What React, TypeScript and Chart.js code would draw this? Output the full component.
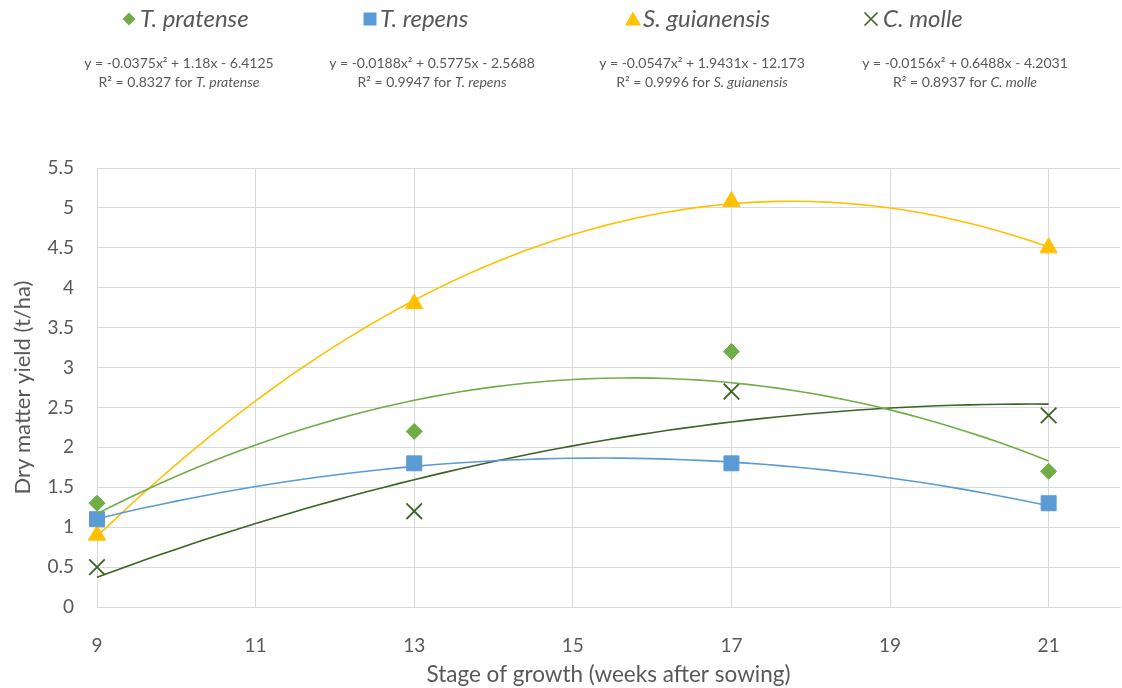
import React, { useEffect, useRef } from 'react';
import { Chart, registerables } from 'chart.js';
Chart.register(...registerables);

const weeks = [9, 13, 17, 21];
const pratense = [1.3, 2.2, 3.2, 1.7];
const repens = [1.1, 1.8, 1.8, 1.3];
const guianensis = [0.9, 3.8, 5.08, 4.5];
const molle = [0.5, 1.2, 2.7, 2.4];
const xTicks = [9, 11, 13, 15, 17, 19, 21];
const yTicks = [0, 0.5, 1, 1.5, 2, 2.5, 3, 3.5, 4, 4.5, 5, 5.5];

// trendline coefficients: y = a x^2 + b x + c
const pratenseFit = [-0.0375, 1.18, -6.4125];
const repensFit = [-0.0188, 0.5775, -2.5688];
const guianensisFit = [-0.0547, 1.9431, -12.173];
const molleFit = [-0.0156, 0.6488, -4.2031];

const names = ['T. pratense', 'T. repens', 'S. guianensis', 'C. molle'];
const equations = [
  'y = -0.0375x² + 1.18x - 6.4125',
  'y = -0.0188x² + 0.5775x - 2.5688',
  'y = -0.0547x² + 1.9431x - 12.173',
  'y = -0.0156x² + 0.6488x - 4.2031',
];
const r2Values = ['0.8327', '0.9947', '0.9996', '0.8937'];

const colors = ['#70AD47', '#5B9BD5', '#FFC000', '#3B6424'];
const lineColors = ['#70AD47', '#5B9BD5', '#FFC000', '#3B6424'];
const FONT = 'Lato, "Open Sans", sans-serif';
const TEXT = '#595959';

function trend(coef: number[]) {
  const pts: { x: number; y: number }[] = [];
  for (let i = 0; i <= 60; i++) {
    const x = 9 + (12 * i) / 60;
    pts.push({ x, y: coef[0] * x * x + coef[1] * x + coef[2] });
  }
  return pts;
}

function drawMarker(ctx: CanvasRenderingContext2D, kind: number, x: number, y: number) {
  ctx.save();
  ctx.fillStyle = colors[kind];
  ctx.strokeStyle = colors[kind];
  ctx.beginPath();
  if (kind === 0) {
    const r = 6.5;
    ctx.moveTo(x, y - r);
    ctx.lineTo(x + r, y);
    ctx.lineTo(x, y + r);
    ctx.lineTo(x - r, y);
    ctx.closePath();
    ctx.fill();
  } else if (kind === 1) {
    ctx.rect(x - 6.5, y - 6.5, 13, 13);
    ctx.fill();
  } else if (kind === 2) {
    ctx.moveTo(x, y - 7.5);
    ctx.lineTo(x + 8, y + 6.5);
    ctx.lineTo(x - 8, y + 6.5);
    ctx.closePath();
    ctx.fill();
  } else {
    ctx.lineWidth = 1.6;
    ctx.moveTo(x - 6.5, y - 6.5);
    ctx.lineTo(x + 6.5, y + 6.5);
    ctx.moveTo(x + 6.5, y - 6.5);
    ctx.lineTo(x - 6.5, y + 6.5);
    ctx.stroke();
  }
  ctx.restore();
}

const headerPlugin = {
  id: 'header',
  afterDraw(chart: any) {
    const ctx: CanvasRenderingContext2D = chart.ctx;
    ctx.save();
    const textStarts = [140, 380, 643, 883];
    const markerX = [129, 370, 633, 871];
    ctx.textBaseline = 'middle';
    ctx.textAlign = 'left';
    names.forEach((n, i) => {
      drawMarker(ctx, i, markerX[i], 19);
      ctx.fillStyle = TEXT;
      ctx.font = `italic 24px ${FONT}`;
      ctx.fillText(n, textStarts[i], 19);
    });
    const centers = [179, 432, 702, 965];
    const fs = 14;
    equations.forEach((eq, i) => {
      ctx.fillStyle = TEXT;
      ctx.font = `${fs}px ${FONT}`;
      ctx.textAlign = 'center';
      ctx.fillText(eq, centers[i], 63);
      const pre = `R² = ${r2Values[i]} for `;
      const wPre = ctx.measureText(pre).width;
      ctx.font = `italic ${fs}px ${FONT}`;
      const wName = ctx.measureText(names[i]).width;
      const start = centers[i] - (wPre + wName) / 2;
      ctx.textAlign = 'left';
      ctx.font = `${fs}px ${FONT}`;
      ctx.fillText(pre, start, 82);
      ctx.font = `italic ${fs}px ${FONT}`;
      ctx.fillText(names[i], start + wPre, 82);
    });
    ctx.restore();
  },
};

export default function App() {
  const ref = useRef<HTMLCanvasElement>(null);
  useEffect(() => {
    if (!ref.current) return;
    const series = [pratense, repens, guianensis, molle];
    const fits = [pratenseFit, repensFit, guianensisFit, molleFit];
    const styles = ['rectRot', 'rect', 'triangle', 'crossRot'];
    const radii = [8, 10.6, 10, 11];
    const trendSets = fits.map((f, i) => ({
      type: 'line' as const,
      label: names[i] + ' trend',
      data: trend(f),
      borderColor: lineColors[i],
      borderWidth: 1.6,
      pointRadius: 0,
      tension: 0,
      fill: false,
      clip: false,
      order: 0,
    }));
    const pointSets = series.map((s, i) => ({
      type: 'scatter' as const,
      label: names[i],
      data: weeks.map((w, j) => ({ x: w, y: s[j] })),
      backgroundColor: colors[i],
      borderColor: colors[i],
      borderWidth: i === 3 ? 1.8 : 1,
      pointStyle: styles[i],
      pointRadius: radii[i],
      pointHoverRadius: radii[i],
      showLine: false,
      clip: false,
      order: 1,
    }));
    const chart = new Chart(ref.current, {
      type: 'scatter',
      data: { datasets: [...trendSets, ...pointSets] as any },
      options: {
        responsive: false,
        animation: false,
        layout: { autoPadding: false, padding: { top: 168, right: 2, left: 0, bottom: 0 } },
        plugins: { legend: { display: false }, tooltip: { enabled: false } },
        scales: {
          x: {
            type: 'linear',
            min: 9,
            max: 21.9,
            afterBuildTicks: (s: any) => {
              s.ticks = xTicks.map((v) => ({ value: v }));
            },
            afterFit: (s: any) => {
              s.height = 81;
              s.paddingLeft = 0;
              s.paddingRight = 0;
            },
            grid: { color: '#D9D9D9', drawTicks: false },
            border: { color: '#D9D9D9' },
            ticks: { color: TEXT, font: { family: FONT, size: 19 }, padding: 27, maxRotation: 0 },
            title: {
              display: true,
              text: 'Stage of growth (weeks after sowing)',
              color: TEXT,
              font: { family: FONT, size: 22.5 },
              padding: { top: 0, bottom: 0 },
            },
          },
          y: {
            type: 'linear',
            min: 0,
            max: 5.5,
            afterBuildTicks: (s: any) => {
              s.ticks = yTicks.map((v) => ({ value: v }));
            },
            afterFit: (s: any) => {
              s.width = 97;
            },
            grid: { color: '#D9D9D9', drawTicks: false },
            border: { display: false },
            ticks: {
              color: TEXT,
              font: { family: FONT, size: 19 },
              padding: 23,
              callback: (v: any) => String(Number(v)),
            },
            title: {
              display: true,
              text: 'Dry matter yield (t/ha)',
              color: TEXT,
              font: { family: FONT, size: 22 },
              padding: { top: 10, bottom: 0 },
            },
          },
        },
      },
      plugins: [headerPlugin],
    });
    return () => chart.destroy();
  }, []);
  return (
    <div style={{ position: 'fixed', left: 0, top: 0, width: 1122, height: 688, background: '#fff' }}>
      <canvas ref={ref} width={1122} height={688} style={{ display: 'block' }} />
    </div>
  );
}
